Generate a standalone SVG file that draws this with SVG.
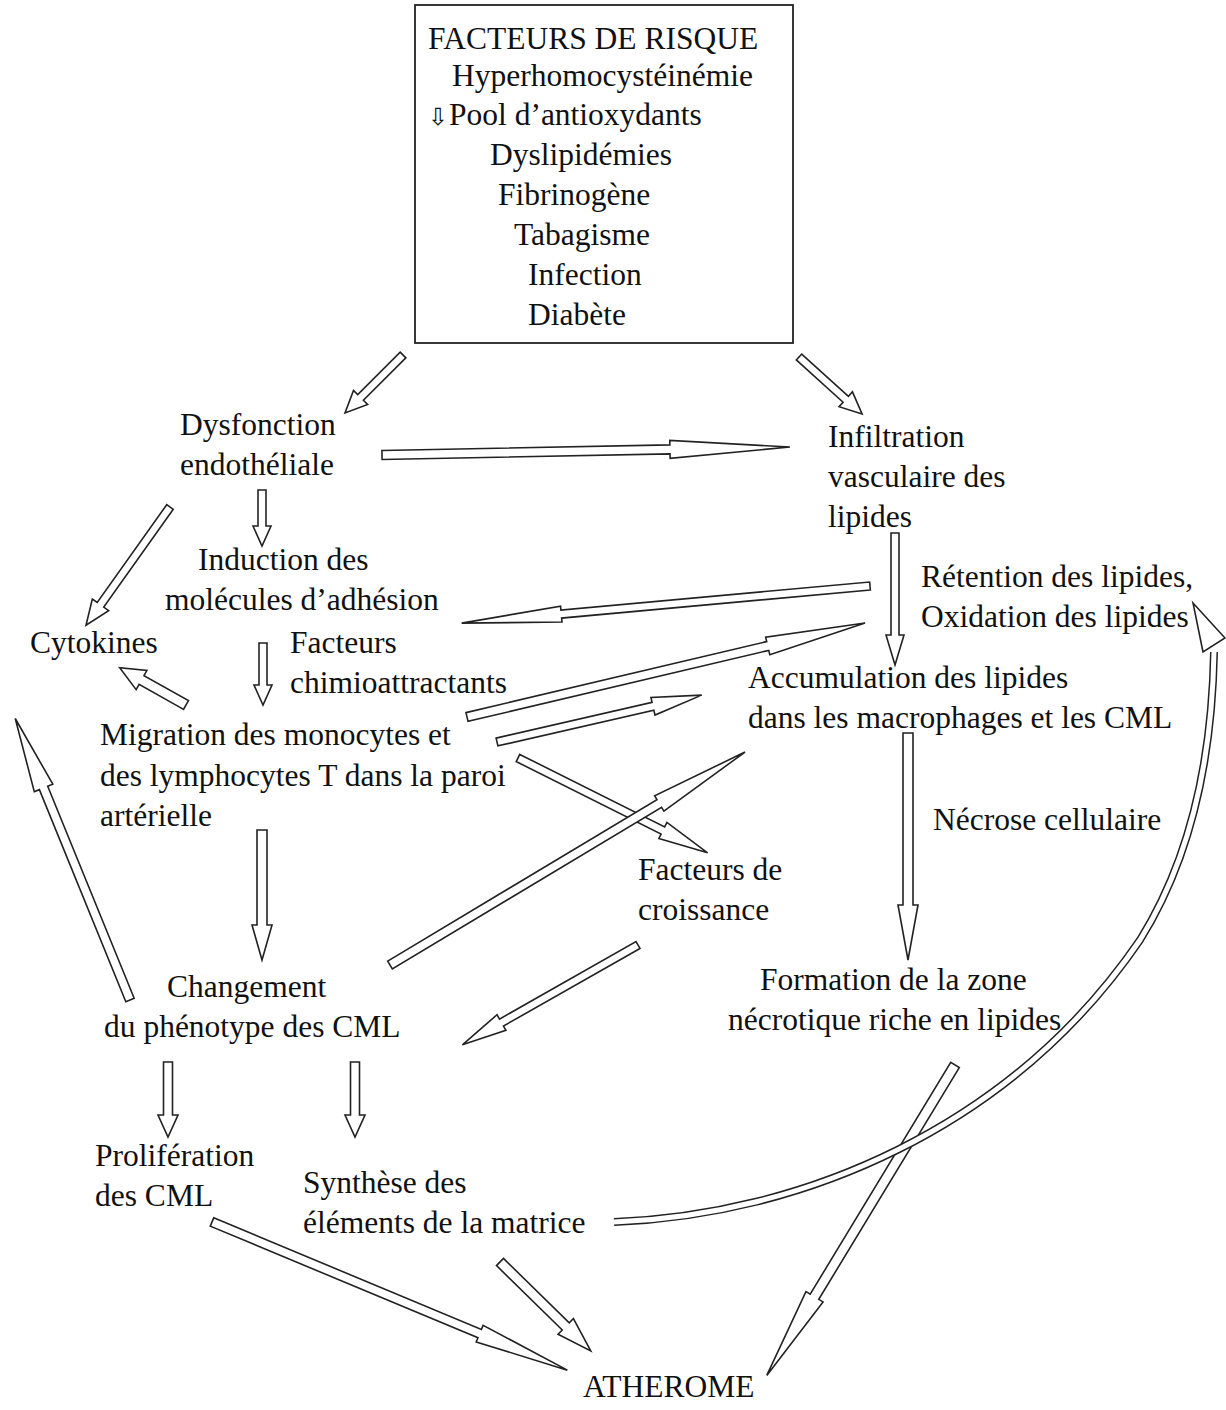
<svg xmlns="http://www.w3.org/2000/svg" width="1226" height="1410" viewBox="0 0 1226 1410">
<style>
.t{font-family:"Liberation Serif","Times New Roman",serif;font-size:31.5px;fill:#111}
.a{fill:#fff;stroke:#222;stroke-width:1.6;stroke-linejoin:miter}
.box{fill:#fff;stroke:#222;stroke-width:1.8}
</style>
<rect width="1226" height="1410" fill="#fff"/>
<g id="connectors">
  <path class="a" transform="translate(403,355) rotate(135)" d="M0,-4 L60,-4 L60,-10 L82,0 L60,10 L60,4 L0,4 Z"/>
  <path class="a" transform="translate(799,357) rotate(42.1)" d="M0,-4 L63,-4 L63,-10 L85,0 L63,10 L63,4 L0,4 Z"/>
  <path class="a" transform="translate(382,455) rotate(-1.12)" d="M0,-4.5 L288,-4.5 L288,-9 L408,0 L288,9 L288,4.5 L0,4.5 Z"/>
  <path class="a" transform="translate(262,490) rotate(90)" d="M0,-4 L36,-4 L36,-9 L56,0 L36,9 L36,4 L0,4 Z"/>
  <path class="a" transform="translate(170,507) rotate(125.4)" d="M0,-4 L120,-4 L120,-10 L145,0 L120,10 L120,4 L0,4 Z"/>
  <path class="a" transform="translate(870,586) rotate(174.8)" d="M0,-4 L310,-4 L310,-8 L410,0 L310,8 L310,4 L0,4 Z"/>
  <path class="a" transform="translate(263,643) rotate(90)" d="M0,-4 L42,-4 L42,-9 L62,0 L42,9 L42,4 L0,4 Z"/>
  <path class="a" transform="translate(186,705) rotate(-150.7)" d="M0,-5 L51,-5 L51,-11 L76,0 L51,11 L51,5 L0,5 Z"/>
  <path class="a" transform="translate(467,717) rotate(-13.29)" d="M0,-4.5 L309,-4.5 L309,-9 L409,0 L309,9 L309,4.5 L0,4.5 Z"/>
  <path class="a" transform="translate(497,742) rotate(-12.9)" d="M0,-4 L160,-4 L160,-9 L210,0 L160,9 L160,4 L0,4 Z"/>
  <path class="a" transform="translate(518,758) rotate(26.57)" d="M0,-4 L162,-4 L162,-9 L212,0 L162,9 L162,4 L0,4 Z"/>
  <path class="a" transform="translate(390,965) rotate(-30.96)" d="M0,-4.5 L314,-4.5 L314,-9 L414,0 L314,9 L314,4.5 L0,4.5 Z"/>
  <path class="a" transform="translate(638,945) rotate(150.4)" d="M0,-4 L157,-4 L157,-9 L202,0 L157,9 L157,4 L0,4 Z"/>
  <path class="a" transform="translate(262,830) rotate(90)" d="M0,-5 L95,-5 L95,-10 L130,0 L95,10 L95,5 L0,5 Z"/>
  <path class="a" transform="translate(130,1000) rotate(-112.18)" d="M0,-4.5 L229,-4.5 L229,-10 L304,0 L229,10 L229,4.5 L0,4.5 Z"/>
  <path class="a" transform="translate(895,533) rotate(90)" d="M0,-4 L102,-4 L102,-9 L132,0 L102,9 L102,4 L0,4 Z"/>
  <path class="a" transform="translate(908,733) rotate(90)" d="M0,-5 L172,-5 L172,-10 L227,0 L172,10 L172,5 L0,5 Z"/>
  <path class="a" transform="translate(168,1062) rotate(90)" d="M0,-4.5 L53,-4.5 L53,-10 L75,0 L53,10 L53,4.5 L0,4.5 Z"/>
  <path class="a" transform="translate(355,1062) rotate(90)" d="M0,-4.5 L53,-4.5 L53,-10 L75,0 L53,10 L53,4.5 L0,4.5 Z"/>
  <path class="a" transform="translate(212,1222) rotate(22.63)" d="M0,-4.5 L290,-4.5 L290,-9 L385,0 L290,9 L290,4.5 L0,4.5 Z"/>
  <path class="a" transform="translate(500,1262) rotate(44.4)" d="M0,-5 L92,-5 L92,-11 L127,0 L92,11 L92,5 L0,5 Z"/>
  <path class="a" transform="translate(955,1065) rotate(121.23)" d="M0,-5 L271,-5 L271,-10 L363,0 L271,10 L271,5 L0,5 Z"/>
  <path d="M614,1222 C800,1215 1010,1130 1140,940 C1190,860 1212,760 1214,652" fill="none" stroke="#222" stroke-width="8"/>
  <path d="M614,1222 C800,1215 1010,1130 1140,940 C1190,860 1212,760 1214,652" fill="none" stroke="#fff" stroke-width="5"/>
  <path class="a" d="M1193,603 L1225,638 L1203,652 Z"/>
</g>
<g id="n-risque">
  <rect class="box" x="415" y="5" width="378" height="338"/>
  <text class="t" x="428" y="49">FACTEURS DE RISQUE</text>
  <text class="t" x="452" y="86">Hyperhomocystéinémie</text>
  <text class="t" x="428" y="125"><tspan style="font-family:'DejaVu Sans',sans-serif;font-size:24px">⇩</tspan><tspan x="449">Pool d’antioxydants</tspan></text>
  <text class="t" x="490" y="165">Dyslipidémies</text>
  <text class="t" x="498" y="205">Fibrinogène</text>
  <text class="t" x="514" y="245">Tabagisme</text>
  <text class="t" x="528" y="285">Infection</text>
  <text class="t" x="528" y="325">Diabète</text>
</g>
<g id="n-dysfonction">
  <text class="t" x="180" y="435">Dysfonction</text>
  <text class="t" x="180" y="475">endothéliale</text>
</g>
<g id="n-infiltration">
  <text class="t" x="828" y="447">Infiltration</text>
  <text class="t" x="828" y="487">vasculaire des</text>
  <text class="t" x="828" y="527">lipides</text>
</g>
<g id="n-induction">
  <text class="t" x="198" y="570">Induction des</text>
  <text class="t" x="165" y="610">molécules d’adhésion</text>
</g>
<g id="n-retention">
  <text class="t" x="921" y="587">Rétention des lipides,</text>
  <text class="t" x="921" y="627">Oxidation des lipides</text>
</g>
<g id="n-cytokines">
  <text class="t" x="30" y="653">Cytokines</text>
</g>
<g id="n-chimio">
  <text class="t" x="290" y="653">Facteurs</text>
  <text class="t" x="290" y="693">chimioattractants</text>
</g>
<g id="n-accumulation">
  <text class="t" x="748" y="688">Accumulation des lipides</text>
  <text class="t" x="748" y="728">dans les macrophages et les CML</text>
</g>
<g id="n-migration">
  <text class="t" x="100" y="745">Migration des monocytes et</text>
  <text class="t" x="100" y="786">des lymphocytes T dans la paroi</text>
  <text class="t" x="100" y="826">artérielle</text>
</g>
<g id="n-necrose">
  <text class="t" x="933" y="830">Nécrose cellulaire</text>
</g>
<g id="n-croissance">
  <text class="t" x="638" y="880">Facteurs de</text>
  <text class="t" x="638" y="920">croissance</text>
</g>
<g id="n-changement">
  <text class="t" x="167" y="997">Changement</text>
  <text class="t" x="104" y="1037">du phénotype des CML</text>
</g>
<g id="n-formation">
  <text class="t" x="760" y="990">Formation de la zone</text>
  <text class="t" x="728" y="1030">nécrotique riche en lipides</text>
</g>
<g id="n-proliferation">
  <text class="t" x="95" y="1166">Prolifération</text>
  <text class="t" x="95" y="1206">des CML</text>
</g>
<g id="n-synthese">
  <text class="t" x="303" y="1193">Synthèse des</text>
  <text class="t" x="303" y="1233">éléments de la matrice</text>
</g>
<g id="n-atherome">
  <text class="t" x="583" y="1397">ATHEROME</text>
</g>
</svg>
